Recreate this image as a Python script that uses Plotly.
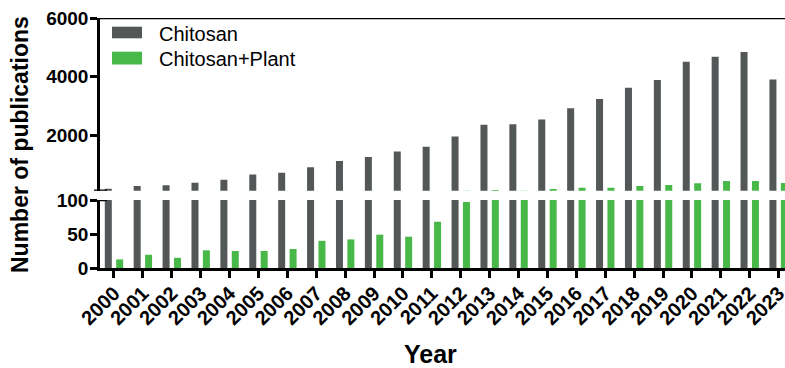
import plotly.graph_objects as go

years = [str(y) for y in range(2000, 2024)]
chitosan = [170, 260, 290, 370, 470, 650, 710, 900, 1115, 1255, 1435, 1605,
            1950, 2350, 2370, 2530, 2920, 3230, 3615, 3880, 4505, 4675, 4835, 3900]
chitosan_plant = [12.6, 19.5, 15, 26, 25, 25, 28, 40, 42, 49, 46, 68,
                  97, 120, 102, 155, 200, 200, 260, 295, 355, 430, 432, 363]

GRAY = "#535757"
GREEN = "#48b848"
FONT = "Liberation Sans, Arial, sans-serif"

W, H = 785, 368
ML, MR, MT, MB = 100, 0, 18, 100
PH = H - MT - MB
top_lo_px, bot_hi_px = 190.7, 200.0
top_dom = [(H - MB - top_lo_px) / PH, 1.0]
bot_dom = [0.0, (H - MB - bot_hi_px) / PH]

fig = go.Figure()
for name, vals, col in [("Chitosan", chitosan, GRAY), ("Chitosan+Plant", chitosan_plant, GREEN)]:
    fig.add_trace(go.Bar(x=years, y=vals, name=name, marker=dict(color=col, line=dict(width=0)),
                         xaxis="x", yaxis="y", showlegend=False))
    fig.add_trace(go.Bar(x=years, y=vals, name=name, marker=dict(color=col, line=dict(width=0)),
                         xaxis="x", yaxis="y2", showlegend=False))

axis_common = dict(showline=True, linecolor="black", linewidth=2.5, ticks="outside",
                   ticklen=7, tickwidth=2.5, tickcolor="black", showgrid=False, zeroline=False,
                   automargin=False, ticklabelstandoff=-2,
                   tickfont=dict(family=FONT, size=19, color="black", weight="bold"))

fig.update_layout(
    template="none",
    width=W, height=H, margin=dict(l=ML, r=MR, t=MT, b=MB, autoexpand=False),
    plot_bgcolor="white", paper_bgcolor="white",
    barmode="group", bargap=0.211, bargroupgap=0.386,
    showlegend=False,
    xaxis=dict(range=[-0.484, 23.22], type="category", showline=True, linecolor="black",
               linewidth=2.5, ticks="outside", ticklen=7, tickwidth=2.5, tickcolor="black",
               showgrid=False, zeroline=False, tickangle=-45, anchor="y", automargin=False,
               ticklabelstandoff=-4,
               tickfont=dict(family=FONT, size=20, color="black", weight="bold")),
    yaxis=dict(domain=bot_dom, range=[0, 100], tickvals=[0, 50, 100], anchor="x", **axis_common),
    yaxis2=dict(domain=top_dom, range=[100, 6000], tickvals=[2000, 4000, 6000], anchor="x", **axis_common),
)

# top frame line at 6000
fig.add_shape(type="line", xref="paper", yref="y2", x0=0, x1=1, y0=6000, y1=6000,
              line=dict(color="black", width=2.5))
# break caps
fig.add_shape(type="line", xref="x domain", yref="y2", x0=-6 / 685, x1=7 / 685, y0=100, y1=100,
              line=dict(color="black", width=2.5))
fig.add_shape(type="line", xref="x domain", yref="y", x0=-7 / 685, x1=7 / 685, y0=100, y1=100,
              line=dict(color="black", width=2.5))

# legend (manual)
def px_x(p):
    return (p - ML) / (W - ML - MR)

def px_y(p):
    return (H - MB - p) / PH

for label, col, y0, y1 in [("Chitosan", GRAY, 26.7, 38.3), ("Chitosan+Plant", GREEN, 51.7, 64.5)]:
    fig.add_shape(type="rect", xref="paper", yref="paper", x0=px_x(112), x1=px_x(142),
                  y0=px_y(y1), y1=px_y(y0), fillcolor=col, line=dict(width=0))
    fig.add_annotation(xref="paper", yref="paper", x=px_x(157), y=px_y((y0 + y1) / 2 + 1),
                       text=label, showarrow=False, xanchor="left", yanchor="middle",
                       font=dict(family=FONT, size=20, color="black"))

fig.add_annotation(xref="paper", yref="paper", x=px_x(20), y=px_y(145), text="Number of publications",
                   textangle=-90, showarrow=False, xanchor="center", yanchor="middle",
                   font=dict(family=FONT, size=23, color="black", weight="bold"))
fig.add_annotation(xref="paper", yref="paper", x=px_x(430), y=px_y(354), text="Year",
                   showarrow=False, xanchor="center", yanchor="middle",
                   font=dict(family=FONT, size=25, color="black", weight="bold"))

fig.write_html("out.html", config={"displayModeBar": False},
               post_script="document.body.style.margin='0';document.body.style.overflow='hidden';")
